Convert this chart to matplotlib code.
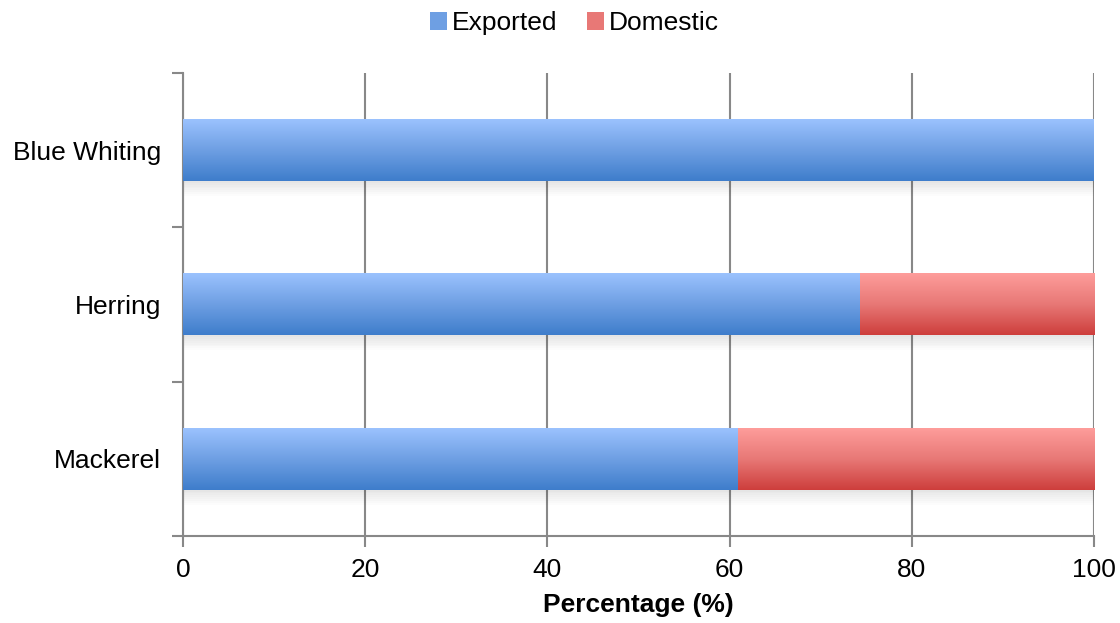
import numpy as np
import matplotlib
matplotlib.use("Agg")
import matplotlib.pyplot as plt
from matplotlib.colors import LinearSegmentedColormap
from matplotlib.patches import Rectangle

plt.rcParams['font.family'] = ['Liberation Sans', 'DejaVu Sans']

species = ["Mackerel", "Herring", "Blue Whiting"]
exported = [60.9, 74.3, 100.0]
domestic = [39.1, 25.7, 0.0]
series_names = ["Exported", "Domestic"]
x_ticks = [0, 20, 40, 60, 80, 100]

blue_cmap = LinearSegmentedColormap.from_list("blue", ["#3E7DCB", "#6E9FE3", "#9BC2FE"])
red_cmap = LinearSegmentedColormap.from_list("red", ["#CD3E3C", "#E87876", "#FE9D9B"])

fig = plt.figure(figsize=(11.2, 6.23), dpi=100)
ax = fig.add_axes([183 / 1120, (623 - 536) / 623, (1094 - 183) / 1120, (536 - 73) / 623])

ypos = np.arange(len(species))
bar_h = 0.4
bars_e = ax.barh(ypos, exported, height=bar_h, color="none", zorder=3)
bars_d = ax.barh(ypos, domestic, left=exported, height=bar_h, color="none", zorder=3)

grad = np.linspace(0, 1, 256).reshape(-1, 1)


def paint(bars, cmap):
    for b in bars:
        x0, y0 = b.get_x(), b.get_y()
        w, h = b.get_width(), b.get_height()
        if w <= 0:
            continue
        ax.imshow(grad, cmap=cmap, origin="lower", aspect="auto",
                  extent=(x0, x0 + w, y0, y0 + h), zorder=3, interpolation="bicubic")
        # soft drop shadow below the bar
        for k in range(8):
            ax.add_patch(Rectangle((x0 + 0.1, y0 - 0.012 * (k + 1)), w, 0.012,
                                   facecolor="black", edgecolor="none",
                                   alpha=0.10 * (1 - k / 8), zorder=2))


paint(bars_e, blue_cmap)
paint(bars_d, red_cmap)

ax.set_xlim(0, 100)
ax.set_ylim(-0.5, len(species) - 0.5)
ax.set_xticks(x_ticks)
ax.set_xticklabels([str(t) for t in x_ticks], fontsize=19)
ax.set_yticks(ypos)
ax.set_yticklabels(species, fontsize=19)
ax.set_yticks(np.arange(-0.5, len(species), 1.0), minor=True)
ax.tick_params(axis="y", which="major", length=0, pad=16)
ax.tick_params(axis="y", which="minor", length=8, color="#888888", width=1.5)
ax.tick_params(axis="x", which="major", length=8, color="#888888", width=1.5, pad=8)

ax.grid(axis="x", color="#888888", linewidth=1.5, zorder=1)
ax.set_axisbelow(True)
for s in ["top", "right"]:
    ax.spines[s].set_visible(False)
for s in ["left", "bottom"]:
    ax.spines[s].set_color("#888888")
    ax.spines[s].set_linewidth(1.5)

ax.set_xlabel("Percentage (%)", fontsize=19, fontweight="bold", labelpad=8)

handles = [Rectangle((0, 0), 1, 1, facecolor="#6E9FE3"), Rectangle((0, 0), 1, 1, facecolor="#E87876")]
fig.legend(handles, series_names, loc="upper center", bbox_to_anchor=(0.513, 1.02), ncol=2,
           frameon=False, fontsize=19, handlelength=0.65, handleheight=0.65,
           handletextpad=0.2, columnspacing=1.1)

fig.savefig("out.png", dpi=100)
